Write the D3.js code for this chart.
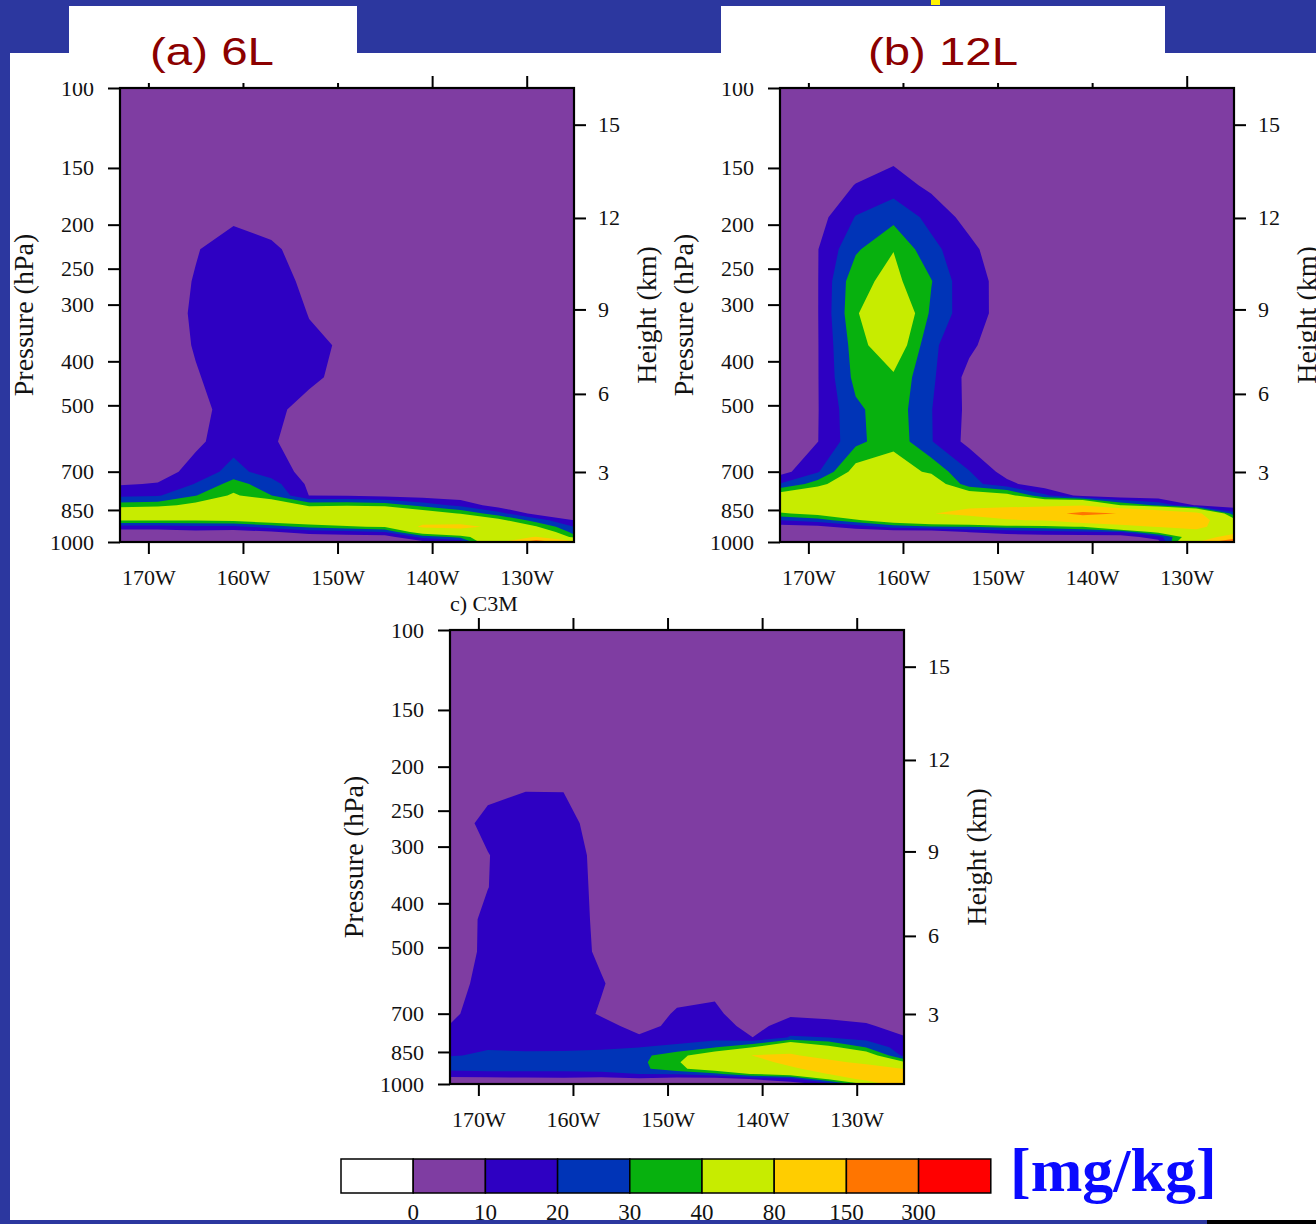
<!DOCTYPE html>
<html lang="en">
<head>
<meta charset="utf-8"/>
<title>Cloud water cross sections</title>
<script src="https://d3js.org/d3.v7.min.js"></script>
<style>
  body { margin: 0; background: #2c379f; }
  svg { display: block; }
  .tick text { font-family: "Liberation Serif", "Times New Roman", serif; font-size: 22px; fill: #111; }
  .tick line { stroke: #000; stroke-width: 2; }
</style>
</head>
<body>
<svg id="chart" width="1316" height="1224"></svg>
<script>
// grid of the model fields
const lons = [-173, -169, -165, -161, -157, -153, -149, -145, -141, -137, -133, -129, -125];
const levels = [100, 118.3, 139.1, 163.7, 192.5, 226.5, 266.5, 313.5, 368.8, 433.9, 510.5,
                600.5, 700, 745, 790, 830, 865, 895, 925, 950, 975, 1000];

// contour levels (mg/kg) and the fill colours
const thresholds = [0, 10, 20, 30, 40, 80, 150, 300];
const bandColors = ["#ffffff", "#7f3da2", "#2e00c2", "#0034b7", "#07b10e", "#c7ec00", "#ffcd00", "#ff7500", "#ff0000"];

const pTicks = [100, 150, 200, 250, 300, 400, 500, 700, 850, 1000];
const zTicks = [3, 6, 9, 12, 15];
const lonTicks = [-170, -160, -150, -140, -130];

// (a) 6L  rows = levels (top to bottom), columns = lons
const q6L = [
  [1,1,1,1,1,1,1,1,1,1,1,1,1],
  [1,1,1,1,1,1,1,1,1,1,1,1,1],
  [2,2,2,2,2,2,2,2,2,2,2,2,2],
  [2,2,2,3,2,2,2,2,2,2,2,2,2],
  [2,2,4,7,6.3,3,2,2,2,2,2,2,2],
  [2,2,8.9,18,11.5,6.1,3,2,2,2,2,2,2],
  [2,1,11.1,18,14,7.8,3,2,2,2,2,2,2],
  [2,1,12.4,18,15,9.7,4,2,2,2,2,2,2],
  [2,1,11.2,18,16,11.4,9.1,3,2,2,2,2,2],
  [2,2,8.8,17,16,13.2,5,2,2,2,2,2,2],
  [2,2,5.3,16,14,4.5,3,2,2,2,2,2,2],
  [2,2,7.8,16,11.5,3,3,3,3,3,3,3,3],
  [4,5,14.1,23.5,15,6.7,4,3,3,3,3,3,3],
  [9,10.7,20.5,34,24.3,8,6,5,4,3,3,3,3],
  [17.7,19,29.6,42,30.2,9.8,9,7,5,4,3,3,3],
  [34.6,36,44,65,55,37.5,39,37,26,17,5,3,3],
  [58,60,62,75,60,58,60,62,50,39,24,6,5],
  [41,41,41,44,50,55,58,60,65,60,44,25,10],
  [15,15,18,17,25,33,38,42,86,92,70,41,20],
  [6,6,7,6,9,14,16,20,50,60,62,55,26],
  [4,4,4,4,4,4,5,5,23,33,60,82,34],
  [3,3,3,3,3,3,3,3,7,12,70,200,90]
];

// (b) 12L
const q12L = [
  [2,2,2,2,2,2,2,2,2,2,2,2,2],
  [2,2,2,3,2,2,2,2,2,2,2,2,2],
  [2,2,3,6.6,3,2,2,2,2,2,2,2,2],
  [2,3,10.4,15.1,7.4,3,2,2,2,2,2,2,2],
  [2,5.9,20.5,26.9,17,6.1,2,2,2,2,2,2,2],
  [2,9.7,28.4,39.7,22.7,13,2,2,2,2,2,2,2],
  [2,9.7,37,43,30.5,11.4,8.7,2,2,2,2,2,2],
  [2,9.7,38.5,56,28,13.5,6.8,2,2,2,2,2,2],
  [2,9.6,35,50,22,12,3,2,2,2,2,2,2],
  [2,9.6,33,38,21.7,7,2,2,2,2,2,2,2],
  [2,9.6,28,36,20.3,7.6,2,2,2,2,2,2,2],
  [3,9.8,27,37,20.5,6.9,3,2,2,2,2,2,2],
  [6,19,45,46,38,20.5,5.7,3,2,2,2,2,2],
  [20.5,35,55,60,50,24,13,3,2,2,2,2,2],
  [48,57,65,70,68,50,45,22,6,2,2,2,2],
  [55,62,68,74,76,75,75,70,78,40.5,28,9,4],
  [38,45,62,72,79,88,95,130,165,148,115,90,23],
  [20.5,25,38,50,60,64,78,82,110,110,105,100,45],
  [6,8,14,24,29,30.5,34,36,41,68,82,90,55],
  [4,4,4,4,4,10.5,14,17,18,20.5,45,70,65],
  [3,3,3,3,3,3,4,5,5,5,15,55,100],
  [2,2,2,2,2,2,2,2,2,2,6,75,250]
];

// (c) C3M
const qC3M = [
  [3,3,3,3,3,3,3,3,3,3,3,3,3],
  [3,3,3,3,3,3,3,3,3,3,3,3,3],
  [3,3,3,3,3,3,3,3,3,3,3,3,3],
  [3,3,3,3,3,3,3,3,3,3,3,3,3],
  [3,3,3,3,3,3,3,3,3,3,3,3,3],
  [3,7,9.9,9.8,3,3,3,3,3,3,3,3,3],
  [3,13.8,16,16,2,3,3,3,3,3,3,3,3],
  [3,9.5,18,17,5.7,3,3,3,3,3,3,3,3],
  [3,9.8,17,17,6.4,3,3,3,3,3,3,3,3],
  [3,12.6,17,17,7,3,3,3,3,3,3,3,3],
  [3,12.8,17,17,7.7,3,3,3,3,3,3,3,3],
  [3,16.2,18,17,11,2,6,7,3,3,3,3,3],
  [7,18,18,17,8.7,5.1,11,12,3.7,8.5,8,7,3],
  [10.6,19,18,17,14,6,13,14,7,14,12.5,11,7],
  [13,19,18.5,18,17,11.6,15,16,10.1,21,20,16,10.5],
  [16,19.5,19,19,19,19.9,22.4,29.5,40,62,44,29.5,14],
  [19.5,21,21,21.2,22.4,27,36,50,81,85,65,50,17],
  [23,24,24,24,25,27.5,38.5,55,60,95,90,70,41],
  [21,22,22,22,23,27,37,48,52,72,100,100,79],
  [18,18,18,18,18,20,21.4,27,41,48,80.5,120,110],
  [5,6,7,7.2,6,8,5,5,10.5,15,42,95,120],
  [3,3,4,4,4,5,3,3,3,6,12,42,120]
];

const W = 454, H = 454;
const panels = [
  {data: q6L,  x0: 120, y0: 88},
  {data: q12L, x0: 780, y0: 88},
  {data: qC3M, x0: 450, y0: 630}
];

// standard atmosphere: height (km) -> pressure (hPa)
function zToP(z) {
  const m = z * 1000;
  return m <= 11000 ? 1013.25 * Math.pow(1 - 2.25577e-5 * m, 5.25588)
                    : 226.32 * Math.exp(-(m - 11000) / 6341.6);
}

// contour grid coordinates -> data coordinates
function lonAt(u) {
  const n = lons.length;
  let k = Math.max(0, Math.min(n - 1, u - 0.5));
  const i = Math.min(Math.floor(k), n - 2), f = k - i;
  return lons[i] + f * (lons[i + 1] - lons[i]);
}
function presAt(v) {
  const m = levels.length;
  let k = Math.max(0, Math.min(m - 1, v - 0.5));
  const i = Math.min(Math.floor(k), m - 2), f = k - i;
  return Math.exp(Math.log(levels[i]) + f * (Math.log(levels[i + 1]) - Math.log(levels[i])));
}

const svg = d3.select("#chart");
const serif = '"Liberation Serif", "Times New Roman", serif';

// page background
svg.append("rect").attr("width", 1316).attr("height", 1224).attr("fill", "#2c379f");
svg.append("rect").attr("x", 10).attr("y", 53).attr("width", 1306).attr("height", 1167).attr("fill", "#fff");
svg.append("rect").attr("x", 931).attr("y", 0).attr("width", 9).attr("height", 5).attr("fill", "#fff200");

const x = d3.scaleLinear().domain([lons[0], lons[lons.length - 1]]).range([0, W]);
const y = d3.scaleLog().domain([100, 1000]).range([0, H]);

panels.forEach(p => {
  const g = svg.append("g").attr("transform", `translate(${p.x0},${p.y0})`);

  const contours = d3.contours()
    .size([lons.length, levels.length])
    .thresholds(thresholds)(p.data.flat());

  g.selectAll("path.band")
    .data(contours)
    .join("path")
      .attr("class", "band")
      .attr("fill-rule", "evenodd")
      .attr("fill", d => bandColors[thresholds.indexOf(d.value) + 1])
      .attr("d", d => d.coordinates.map(poly => poly.map(ring =>
          "M" + ring.map(([u, v]) => x(lonAt(u)).toFixed(2) + "," + y(presAt(v)).toFixed(2)).join("L") + "Z"
        ).join("")).join(""));

  // axes
  g.append("g")
    .call(d3.axisLeft(y).tickValues(pTicks).tickFormat(d3.format("d")).tickSize(12).tickPadding(14))
    .call(a => a.select(".domain").remove());
  g.append("g").attr("transform", `translate(${W},0)`)
    .call(d3.axisRight(y).tickValues(zTicks.map(zToP)).tickFormat((d, i) => zTicks[i]).tickSize(12).tickPadding(12))
    .call(a => a.select(".domain").remove());
  g.append("g").attr("transform", `translate(0,${H})`)
    .call(d3.axisBottom(x).tickValues(lonTicks).tickFormat(d => Math.abs(d) + "W").tickSize(12).tickPadding(15))
    .call(a => a.select(".domain").remove());
  g.append("g")
    .call(d3.axisTop(x).tickValues(lonTicks).tickFormat("").tickSize(12))
    .call(a => a.select(".domain").remove());
  g.selectAll(".tick text").attr("fill", "#111");

  g.append("rect").attr("width", W).attr("height", H)
    .attr("fill", "none").attr("stroke", "#000").attr("stroke-width", 2.2);

  g.append("text")
    .attr("transform", `translate(-97,${H / 2}) rotate(-90)`)
    .attr("text-anchor", "middle").attr("dominant-baseline", "central")
    .attr("font-family", serif).attr("font-size", 28).attr("fill", "#111")
    .text("Pressure (hPa)");
  g.append("text")
    .attr("transform", `translate(${W + 72},${H / 2}) rotate(-90)`)
    .attr("text-anchor", "middle").attr("dominant-baseline", "central")
    .attr("font-family", serif).attr("font-size", 28).attr("fill", "#111")
    .text("Height (km)");
});

// white title tabs (they cover the top of the upper panels)
svg.append("rect").attr("x", 69).attr("y", 6).attr("width", 288).attr("height", 77).attr("fill", "#fff");
svg.append("rect").attr("x", 721).attr("y", 6).attr("width", 444).attr("height", 77).attr("fill", "#fff");

const sans = '"Liberation Sans", Arial, sans-serif';
svg.append("text").attr("x", 150).attr("y", 65)
  .attr("font-family", sans).attr("font-size", 38).attr("fill", "#8b0000")
  .attr("textLength", 124).attr("lengthAdjust", "spacingAndGlyphs")
  .text("(a) 6L");
svg.append("text").attr("x", 868).attr("y", 65)
  .attr("font-family", sans).attr("font-size", 38).attr("fill", "#8b0000")
  .attr("textLength", 150).attr("lengthAdjust", "spacingAndGlyphs")
  .text("(b) 12L");
svg.append("text").attr("x", 450).attr("y", 611)
  .attr("font-family", serif).attr("font-size", 22).attr("fill", "#111")
  .text("c) C3M");

// colour bar
const cb = svg.append("g").attr("transform", "translate(341,1159)");
const boxW = 72.2, boxH = 34;
cb.selectAll("rect")
  .data(bandColors)
  .join("rect")
    .attr("x", (d, i) => i * boxW).attr("y", 0)
    .attr("width", boxW).attr("height", boxH)
    .attr("fill", d => d).attr("stroke", "#000").attr("stroke-width", 1.5);
cb.selectAll("text")
  .data(thresholds)
  .join("text")
    .attr("x", (d, i) => (i + 1) * boxW).attr("y", 61)
    .attr("text-anchor", "middle")
    .attr("font-family", serif).attr("font-size", 23).attr("fill", "#111")
    .text(d => d);

svg.append("text").attr("x", 1010).attr("y", 1191)
  .attr("font-family", serif).attr("font-weight", "bold").attr("font-size", 62).attr("fill", "#0a0aff")
  .text("[mg/kg]");

// bottom strip
svg.append("rect").attr("x", 0).attr("y", 1220).attr("width", 1207).attr("height", 4).attr("fill", "#2c379f");
svg.append("rect").attr("x", 1207).attr("y", 1220).attr("width", 109).attr("height", 4).attr("fill", "#000");
</script>
</body>
</html>
